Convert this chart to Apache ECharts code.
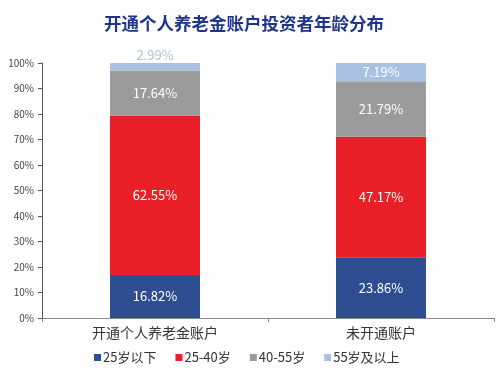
<!DOCTYPE html>
<html>
<head>
<meta charset="utf-8">
<script src="https://cdn.jsdelivr.net/npm/echarts@6/dist/echarts.min.js"></script>
<style>
  html, body { margin: 0; padding: 0; background: #fff; }
  #chart { width: 499px; height: 377px; }
</style>
</head>
<body>
<div id="chart"></div>
<script>
var categories = ['开通个人养老金账户', '未开通账户'];
var seriesNames = ['25岁以下', '25-40岁', '40-55岁', '55岁及以上'];
var under25 = [16.82, 23.86];
var age25to40 = [62.55, 47.17];
var age40to55 = [17.64, 21.79];
var over55 = [2.99, 7.19];
var yTicks = [0, 10, 20, 30, 40, 50, 60, 70, 80, 90, 100];

var colors = ['#2f4e92', '#ea2029', '#9b9b9b', '#a8c0e2'];
var font = '"Noto Sans CJK SC", "Noto Sans", sans-serif';

var myChart = echarts.init(document.getElementById('chart'));

function barSeries(name, data, color, labelCfg) {
    return {
        name: name,
        type: 'bar',
        stack: 'total',
        barWidth: 90,
        data: data,
        itemStyle: { color: color },
        label: labelCfg
    };
}

var whiteLabel = {
    show: true,
    position: 'inside',
    color: '#fff',
    fontSize: 13,
    fontFamily: font,
    formatter: function (p) { return p.value.toFixed(2) + '%'; }
};

var option = {
    backgroundColor: '#fff',
    color: colors,
    title: {
        text: '开通个人养老金账户投资者年龄分布',
        left: 99,
        top: 10,
        textStyle: { color: '#1f3587', fontSize: 17.5, fontWeight: 'bold', fontFamily: font }
    },
    legend: {
        data: seriesNames,
        bottom: 8,
        left: 89,
        itemWidth: 7,
        itemHeight: 7,
        itemGap: 19,
        icon: 'rect',
        textStyle: { color: '#333', fontSize: 13, fontFamily: font, padding: [0, 0, 0, -3] }
    },
    grid: { left: 42, right: 5, top: 63, bottom: 59, containLabel: false },
    xAxis: {
        type: 'category',
        data: categories,
        axisLine: { lineStyle: { color: '#888' } },
        axisTick: { show: true, length: 4, alignWithLabel: false, lineStyle: { color: '#888' } },
        axisLabel: { color: '#333', fontSize: 14, fontFamily: font, margin: 8 }
    },
    yAxis: {
        type: 'value',
        min: 0,
        max: 100,
        interval: 10,
        splitLine: { show: false },
        axisLine: { show: true, lineStyle: { color: '#555' } },
        axisTick: { show: true, length: 4, lineStyle: { color: '#555' } },
        axisLabel: {
            color: '#444',
            fontSize: 10,
            fontFamily: font,
            margin: 8,
            formatter: function (v) { return yTicks.indexOf(v) >= 0 ? v + '%' : ''; }
        }
    },
    series: [
        barSeries(seriesNames[0], under25, colors[0], whiteLabel),
        barSeries(seriesNames[1], age25to40, colors[1], whiteLabel),
        barSeries(seriesNames[2], age40to55, colors[2], whiteLabel),
        {
            name: seriesNames[3],
            type: 'bar',
            stack: 'total',
            barWidth: 90,
            data: [
                { value: over55[0], label: { position: 'top', color: '#b4bfd2', distance: 1 } },
                { value: over55[1] }
            ],
            itemStyle: { color: colors[3] },
            label: whiteLabel
        }
    ]
};

myChart.setOption(option);
window.addEventListener('resize', function () { myChart.resize(); });
</script>
</body>
</html>
